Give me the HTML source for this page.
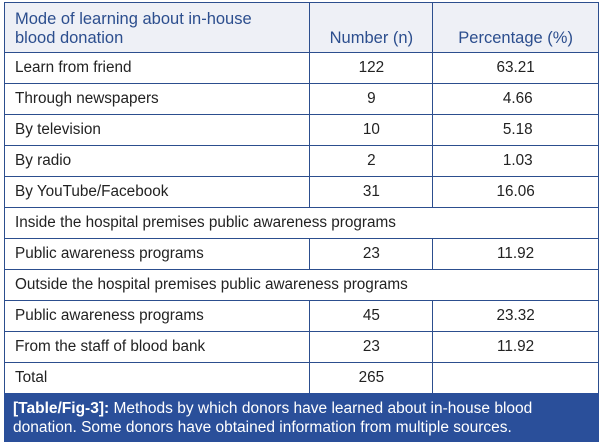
<!DOCTYPE html>
<html><head><style>
body{margin:0;width:601px;height:444px;background:#fff;font-family:"Liberation Sans",Arial,sans-serif;position:relative;overflow:hidden}
table{position:absolute;left:4px;top:2px;width:595px;border-collapse:collapse;font-size:15.3px;color:#222}
td{border:1.5px solid #2c4e8e;padding:0 0 0 10px;height:30px;line-height:16px}
td.c{text-align:center;padding:0}
tr.h td{background:#eef0f6;color:#2c4e8e;height:45px;font-size:16.5px;line-height:19px;vertical-align:bottom;padding-bottom:4px}
.cap{position:absolute;left:4px;top:393px;width:595px;height:49px;background:#2a4f9a;color:#fff;font-size:15.5px;line-height:19px;padding:6px 8px 0 9px;box-sizing:border-box}
</style></head><body>
<table>
<colgroup><col style="width:306px"><col style="width:123px"><col style="width:166px"></colgroup>
<tr class="h"><td>Mode of learning about in-house<br>blood donation</td><td class="c">Number (n)</td><td class="c">Percentage (%)</td></tr>
<tr><td>Learn from friend</td><td class="c">122</td><td class="c">63.21</td></tr>
<tr><td>Through newspapers</td><td class="c">9</td><td class="c">&nbsp;4.66</td></tr>
<tr><td>By television</td><td class="c">10</td><td class="c">&nbsp;5.18</td></tr>
<tr><td>By radio</td><td class="c">2</td><td class="c">&nbsp;1.03</td></tr>
<tr><td>By YouTube/Facebook</td><td class="c">31</td><td class="c">16.06</td></tr>
<tr><td colspan="3">Inside the hospital premises public awareness programs</td></tr>
<tr><td>Public awareness programs</td><td class="c">23</td><td class="c">11.92</td></tr>
<tr><td colspan="3">Outside the hospital premises public awareness programs</td></tr>
<tr><td>Public awareness programs</td><td class="c">45</td><td class="c">23.32</td></tr>
<tr><td>From the staff of blood bank</td><td class="c">23</td><td class="c">11.92</td></tr>
<tr><td>Total</td><td class="c">265</td><td class="c"></td></tr>
</table>
<div class="cap"><b>[Table/Fig-3]:</b> Methods by which donors have learned about in-house blood<br>donation. Some donors have obtained information from multiple sources.</div>
</body></html>
